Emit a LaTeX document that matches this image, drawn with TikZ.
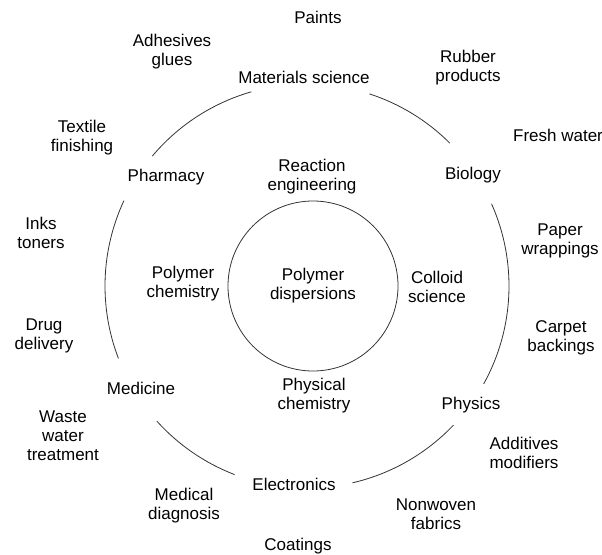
\documentclass[tikz,border=0pt]{standalone}
\usepackage{fontspec}
\setmainfont{Liberation Sans}
\usetikzlibrary{positioning}
\tikzset{ring/.style={draw=black!80, line width=0.6pt}}

\begin{document}
\begin{tikzpicture}[x=0.75pt,y=0.75pt,every node/.style={align=center, inner sep=0pt, font=\fontsize{12.75}{14.25}\selectfont}]
                \useasboundingbox (0,0) rectangle (602,554);
                \coordinate (c) at (307,268);

                \node[circle, ring, minimum size=127.5pt] (disp) at (313,268) {Polymer\\dispersions};

                \foreach \a/\b in {45/72, 106/140, 155/201, 222/249, 283/316.5, 331/384}
                    \draw[ring] ([shift={(c)}]\a:202) arc[start angle=\a, end angle=\b, radius=202];

                \node (matsci) at (304,477) {Materials science};
                \node (bio) at (473,379) {Biology};
                \node (phys) at (471,149) {Physics};
                \node (elec) at (294,70) {Electronics};
                \node (med) at (141,166) {Medicine};
                \node (pharm) at (166,377) {Pharmacy};

                \node (react) at (312,377) {Reaction\\engineering};
                \node (colloid) at (437,267) {Colloid\\science};
                \node (physchem) at (314,158) {Physical\\chemistry};
                \node (polychem) at (183,270) {Polymer\\chemistry};

                \node (paints) at (318,537) {Paints};
                \node (rubber) at (468,486) {Rubber\\products};
                \node (fresh) at (558,419) {Fresh water};
                \node (paper) at (560,313) {Paper\\wrappings};
                \node (carpet) at (561,216) {Carpet\\backings};
                \node (addit) at (524,101) {Additives\\modifiers};
                \node (nonwov) at (436,40) {Nonwoven\\fabrics};
                \node (coat) at (298,8) {Coatings};
                \node (diag) at (184,48) {Medical\\diagnosis};
                \node (waste) at (63,118) {Waste\\water\\treatment};
                \node (drug) at (44,218) {Drug\\delivery};
                \node (inks) at (41,321) {Inks\\toners};
                \node (textile) at (82,416) {Textile\\finishing};
                \node (adhes) at (172,502) {Adhesives\\glues};
\end{tikzpicture}
\end{document}
